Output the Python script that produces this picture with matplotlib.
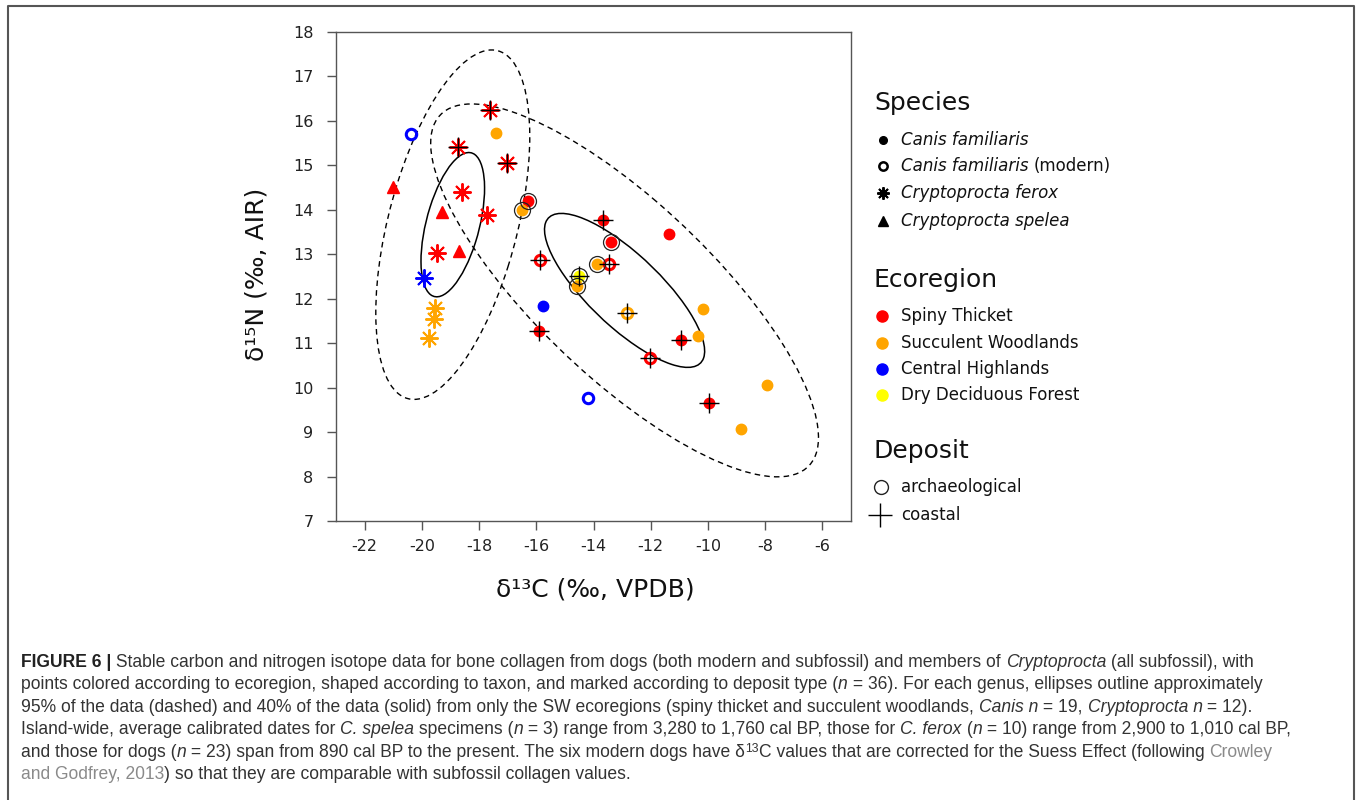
import matplotlib
matplotlib.use('Agg')
import numpy as np
import matplotlib.pyplot as plt
from matplotlib.patches import Ellipse
from matplotlib.lines import Line2D
from matplotlib import font_manager

plt.rcParams['axes.unicode_minus'] = False

W, H = 1357, 800

# isotope values
d13c = [-17.40, -16.30, -16.50, -13.68, -11.37, -13.38, -13.88, -14.52, -14.57, -15.77,
        -15.89, -10.17, -10.36, -10.93, -7.94, -9.97, -8.85,
        -20.39, -15.88, -13.45, -12.83, -12.01, -14.20,
        -17.61, -18.74, -17.02, -18.60, -17.71, -19.47, -19.92, -19.53, -19.57, -19.74,
        -21.02, -19.30, -18.71]
d15n = [15.72, 14.20, 14.00, 13.77, 13.46, 13.28, 12.78, 12.51, 12.29, 11.84,
        11.28, 11.77, 11.17, 11.07, 10.07, 9.66, 9.06,
        15.71, 12.87, 12.78, 11.67, 10.66, 9.77,
        16.25, 15.41, 15.05, 14.40, 13.88, 13.02, 12.46, 11.79, 11.54, 11.11,
        14.51, 13.96, 13.07]
species = ['dog'] * 17 + ['modern'] * 6 + ['ferox'] * 10 + ['spelea'] * 3
ecoregion = ['SW', 'ST', 'SW', 'ST', 'ST', 'ST', 'SW', 'DDF', 'SW', 'CH',
             'ST', 'SW', 'SW', 'ST', 'SW', 'ST', 'SW',
             'CH', 'ST', 'ST', 'SW', 'ST', 'CH',
             'ST', 'ST', 'ST', 'ST', 'ST', 'ST', 'CH', 'SW', 'SW', 'SW',
             'ST', 'ST', 'ST']
deposit = ['', 'arch', 'arch', 'coast', '', 'arch', 'arch', 'both', 'arch', '',
           'coast', '', '', 'coast', '', 'coast', '',
           '', 'coast', 'coast', 'coast', 'coast', '',
           'coast', 'coast', 'coast', '', '', '', '', '', '', '',
           '', '', '']

eco_names = ['Spiny Thicket', 'Succulent Woodlands', 'Central Highlands', 'Dry Deciduous Forest']
eco_keys = ['ST', 'SW', 'CH', 'DDF']
colors = {'ST': '#ff0000', 'SW': '#ffa500', 'CH': '#0000ff', 'DDF': '#ffff00'}

fig = plt.figure(figsize=(W / 100, H / 100), dpi=100)
fig.patch.set_facecolor('white')
r = fig.canvas.get_renderer()


def px(x, y):
    return x / W, 1 - y / H


ax = fig.add_axes([336 / W, 1 - 521 / H, (851 - 336) / W, (521 - 32) / H])

x = np.array(d13c)
y = np.array(d15n)
sp = np.array(species)
eco = np.array(ecoregion)
dep = np.array(deposit)


def cov_ellipse(xs, ys, p, **kw):
    cov = np.cov(xs, ys)
    vals, vecs = np.linalg.eigh(cov)
    k = np.sqrt(-2 * np.log(1 - p))
    ang = np.degrees(np.arctan2(vecs[1, 1], vecs[0, 1]))
    return Ellipse((xs.mean(), ys.mean()), 2 * k * np.sqrt(vals[1]), 2 * k * np.sqrt(vals[0]),
                   angle=ang, fill=False, color='black', **kw)


sw = np.isin(eco, ['ST', 'SW'])
dogs = np.isin(sp, ['dog', 'modern']) & sw
cryp = np.isin(sp, ['ferox', 'spelea']) & sw
for m in (dogs, cryp):
    ax.add_patch(cov_ellipse(x[m], y[m], 0.95, lw=1.0, ls=(0, (4, 3)), zorder=1))
    ax.add_patch(cov_ellipse(x[m], y[m], 0.40, lw=1.1, zorder=1))

for i in range(len(x)):
    c = colors[eco[i]]
    if sp[i] == 'dog':
        ax.plot(x[i], y[i], 'o', ms=7.5, mfc=c, mec=c, zorder=3)
    elif sp[i] == 'modern':
        ax.plot(x[i], y[i], 'o', ms=7.5, mfc='none', mec=c, mew=2.2, zorder=3)
    elif sp[i] == 'ferox':
        ax.plot(x[i], y[i], marker=(8, 2, 0), ms=13, mec=c, mew=1.4, ls='none', zorder=3)
    else:
        ax.plot(x[i], y[i], '^', ms=9, mfc=c, mec=c, zorder=3)
    if dep[i] in ('arch', 'both'):
        ax.plot(x[i], y[i], 'o', ms=11.5, mfc='none', mec='#222222', mew=0.9, zorder=4)
    if dep[i] in ('coast', 'both'):
        ax.plot(x[i], y[i], '+', ms=15, mec='black', mew=1.0, zorder=5)

ax.set_xlim(-23, -5)
ax.set_ylim(7, 18)
ax.set_xticks(range(-22, -5, 2))
ax.set_yticks(range(7, 19))
for s in ax.spines.values():
    s.set_color('#555555')
    s.set_linewidth(1.0)
ax.tick_params(direction='out', length=6.7, width=1.0, color='#555555',
               labelsize=11.5, labelcolor='#222222')
ax.tick_params(axis='y', pad=9.5)
ax.tick_params(axis='x', pad=6.5)
ax.set_xlabel('δ¹³C (‰, VPDB)', fontsize=18, color='#111111')
ax.set_ylabel('δ¹⁵N (‰, AIR)', fontsize=18, color='#111111')
ax.xaxis.set_label_coords(0.503, -0.116)
ax.yaxis.set_label_coords(-0.132, 0.505)


# legend, drawn by hand in three blocks
def leg_marker(xp, yp, **kw):
    fx, fy = px(xp, yp)
    fig.add_artist(Line2D([fx], [fy], transform=fig.transFigure, ls='none', **kw))


def leg_text(xp, yp, s, **kw):
    fx, fy = px(xp, yp)
    return fig.text(fx, fy, s, va='center', ha='left', color='#111111', **kw)


tx = 901
leg_text(874, 103, 'Species', fontsize=18)
sp_y = [140, 166, 193, 221]
leg_marker(883, sp_y[0], marker='o', ms=5.5, mfc='black', mec='black')
leg_marker(883, sp_y[1], marker='o', ms=6, mfc='none', mec='black', mew=1.8)
leg_marker(883, sp_y[2], marker=(8, 2, 0), ms=9, mec='black', mew=1.4)
leg_marker(883, sp_y[3], marker='^', ms=7, mfc='black', mec='black')
leg_text(tx, sp_y[0], 'Canis familiaris', fontsize=12, style='italic')
t = leg_text(tx, sp_y[1], 'Canis familiaris', fontsize=12, style='italic')
wpx = t.get_window_extent(r).width
leg_text(tx + wpx + 5, sp_y[1], '(modern)', fontsize=12)
leg_text(tx, sp_y[2], 'Cryptoprocta ferox', fontsize=12, style='italic')
leg_text(tx, sp_y[3], 'Cryptoprocta spelea', fontsize=12, style='italic')

leg_text(874, 280, 'Ecoregion', fontsize=18)
eco_y = [316, 343, 369, 395]
for k, name, yy in zip(eco_keys, eco_names, eco_y):
    leg_marker(882, yy, marker='o', ms=8, mfc=colors[k], mec=colors[k])
    leg_text(tx, yy, name, fontsize=12)

leg_text(874, 451, 'Deposit', fontsize=18)
leg_marker(881, 487, marker='o', ms=10, mfc='none', mec='#222222', mew=1.0)
leg_marker(880, 515, marker='+', ms=17, mec='black', mew=1.0)
leg_text(tx, 487, 'archaeological', fontsize=12)
leg_text(tx, 515, 'coastal', fontsize=12)

# frame around the figure panel
fig.add_artist(Line2D([8 / W, 8 / W, 1354 / W, 1354 / W], [0, 1 - 6 / H, 1 - 6 / H, 0],
                      transform=fig.transFigure, color='#555555', lw=1.5))

# caption
names = {f.name for f in font_manager.fontManager.ttflist}
cap_font = 'Liberation Sans Narrow' if 'Liberation Sans Narrow' in names else 'Liberation Sans'
IT = {'style': 'italic'}
BF = {'weight': 'bold', 'color': '#222222'}
GR = {'color': '#8a8a8a'}
SUP = {'scale': 0.7, 'sup': True}

caption = [
    [('FIGURE 6 |', BF), (' Stable carbon and nitrogen isotope data for bone collagen from dogs (both modern and subfossil) and members of ', {}),
     ('Cryptoprocta', IT), (' (all subfossil), with', {})],
    [('points colored according to ecoregion, shaped according to taxon, and marked according to deposit type (', {}), ('n', IT),
     (' = 36). For each genus, ellipses outline approximately', {})],
    [('95% of the data (dashed) and 40% of the data (solid) from only the SW ecoregions (spiny thicket and succulent woodlands, ', {}),
     ('Canis n', IT), (' = 19, ', {}), ('Cryptoprocta n', IT), (' = 12).', {})],
    [('Island-wide, average calibrated dates for ', {}), ('C. spelea', IT), (' specimens (', {}), ('n', IT),
     (' = 3) range from 3,280 to 1,760 cal BP, those for ', {}), ('C. ferox', IT), (' (', {}), ('n', IT),
     (' = 10) range from 2,900 to 1,010 cal BP,', {})],
    [('and those for dogs (', {}), ('n', IT), (' = 23) span from 890 cal BP to the present. The six modern dogs have δ', {}),
     ('13', SUP), ('C values that are corrected for the Suess Effect (following ', {}), ('Crowley', GR)],
    [('and Godfrey, 2013', GR), (') so that they are comparable with subfossil collagen values.', {})],
]


def run_kw(st, size):
    kw = dict(family=cap_font, fontsize=size * st.get('scale', 1), color='#333333')
    kw.update({k: v for k, v in st.items() if k not in ('sup', 'scale')})
    return kw


def text_width(s, kw):
    a = fig.text(0, 0, s + '|', **kw)
    b = fig.text(0, 0, '|', **kw)
    w = a.get_window_extent(r).width - b.get_window_extent(r).width
    a.remove()
    b.remove()
    return w


# size the caption font so that the first line spans as in the reference
s0 = 10.0
w0 = sum(text_width(s, run_kw(st, s0)) for s, st in caption[0])
cap_size = s0 * (1242 / w0)

base_y = 667
for li, runs in enumerate(caption):
    xx = 21
    yy = base_y + li * 22.4
    for s, st in runs:
        kw = run_kw(st, cap_size)
        dy = 5 if st.get('sup') else 0
        fig.text(*px(xx, yy - dy), s, va='baseline', ha='left', **kw)
        xx += text_width(s, kw)

fig.savefig('out.png', dpi=100)
